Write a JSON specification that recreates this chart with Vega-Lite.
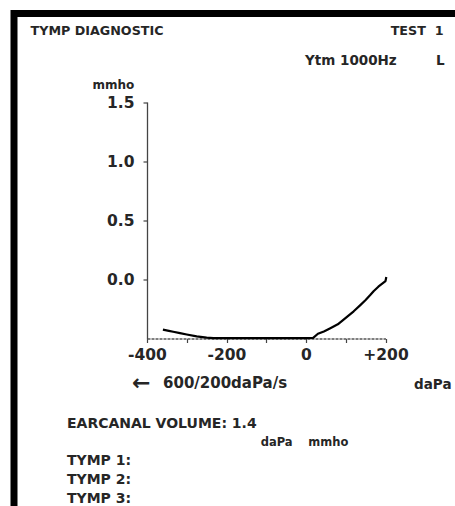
{
  "$schema": "https://vega.github.io/schema/vega-lite/v6.json",
  "width": 451,
  "height": 502.5,
  "autosize": {"type": "none"},
  "padding": {"left": 14, "top": 13.5, "right": -10, "bottom": -10},
  "background": "white",
  "config": {
    "view": {"stroke": "black", "strokeWidth": 7, "fill": "white"},
    "font": "DejaVu Sans",
    "text": {"font": "DejaVu Sans", "fontWeight": "bold", "fontSize": 13.5, "color": "#262626", "baseline": "alphabetic", "align": "left"}
  },
  "datasets": {
    "tympanogram": [
      {"pressure": -360, "admittance": -0.425},
      {"pressure": -345, "admittance": -0.435},
      {"pressure": -334, "admittance": -0.443},
      {"pressure": -317, "admittance": -0.455},
      {"pressure": -300, "admittance": -0.466},
      {"pressure": -275, "admittance": -0.482},
      {"pressure": -250, "admittance": -0.492},
      {"pressure": -233, "admittance": -0.497},
      {"pressure": -200, "admittance": -0.497},
      {"pressure": -150, "admittance": -0.497},
      {"pressure": -100, "admittance": -0.497},
      {"pressure": -50, "admittance": -0.497},
      {"pressure": 0, "admittance": -0.497},
      {"pressure": 18, "admittance": -0.495},
      {"pressure": 30, "admittance": -0.46},
      {"pressure": 45, "admittance": -0.44},
      {"pressure": 60, "admittance": -0.415},
      {"pressure": 80, "admittance": -0.38},
      {"pressure": 100, "admittance": -0.325},
      {"pressure": 120, "admittance": -0.27},
      {"pressure": 136, "admittance": -0.22},
      {"pressure": 150, "admittance": -0.175},
      {"pressure": 161, "admittance": -0.135},
      {"pressure": 170, "admittance": -0.1},
      {"pressure": 182, "admittance": -0.062},
      {"pressure": 195, "admittance": -0.028},
      {"pressure": 200, "admittance": -0.015},
      {"pressure": 202, "admittance": 0.02}
    ]
  },
  "layer": [
    {
      "data": {"name": "tympanogram"},
      "mark": {"type": "line", "color": "black", "strokeWidth": 2.2, "strokeJoin": "round"},
      "encoding": {
        "x": {
          "field": "pressure",
          "type": "quantitative",
          "scale": {"domain": [-400, 200], "range": [133, 371.5], "nice": false, "zero": false},
          "axis": {
            "values": [-400, -300, -200, -100, 0, 100, 200],
            "labelExpr": "datum.value % 200 === 0 ? (datum.value > 0 ? '+' + datum.value : '' + datum.value) : ''",
            "offset": -177.5,
            "grid": false,
            "domainColor": "#555",
            "domainWidth": 1.5,
            "domainDash": [3, 1],
            "tickColor": "#444",
            "tickSize": 4,
            "tickWidth": 1.2,
            "labelFont": "DejaVu Sans",
            "labelFontWeight": "bold",
            "labelFontSize": 15.5,
            "labelColor": "#262626",
            "labelPadding": 5,
            "labelFlush": false,
            "labelOverlap": false,
            "title": "daPa",
            "titleX": 437,
            "titleY": 49.5,
            "titleAlign": "right",
            "titleBaseline": "alphabetic",
            "titleFont": "DejaVu Sans",
            "titleFontWeight": "bold",
            "titleFontSize": 13.5,
            "titleColor": "#262626"
          }
        },
        "y": {
          "field": "admittance",
          "type": "quantitative",
          "scale": {"domain": [-0.5, 1.5], "range": [325, 88.5], "nice": false, "zero": false},
          "axis": {
            "values": [0, 0.5, 1, 1.5],
            "format": ".1f",
            "offset": -133,
            "grid": false,
            "domainColor": "#444",
            "domainWidth": 1.3,
            "tickColor": "#444",
            "tickSize": 4,
            "tickWidth": 1.2,
            "labelFont": "DejaVu Sans",
            "labelFontWeight": "bold",
            "labelFontSize": 15.5,
            "labelColor": "#262626",
            "labelPadding": 9,
            "labelFlush": false,
            "title": "mmho",
            "titleAngle": 0,
            "titleX": -55,
            "titleY": 74.5,
            "titleAlign": "left",
            "titleBaseline": "alphabetic",
            "titleFont": "DejaVu Sans",
            "titleFontWeight": "bold",
            "titleFontSize": 12,
            "titleColor": "#262626"
          }
        }
      }
    },
    {"data": {"values": [{}]}, "mark": {"type": "text", "text": "TYMP DIAGNOSTIC", "fontSize": 12.7},
     "encoding": {"x": {"datum": -692.9, "type": "quantitative"}, "y": {"datum": 2.066, "type": "quantitative"}}},
    {"data": {"values": [{}]}, "mark": {"type": "text", "text": "TEST\u00a0\u00a01", "fontSize": 12.7, "align": "right"},
     "encoding": {"x": {"datum": 345.9, "type": "quantitative"}, "y": {"datum": 2.066, "type": "quantitative"}}},
    {"data": {"values": [{}]}, "mark": {"type": "text", "text": "Ytm 1000Hz", "fontSize": 13.5},
     "encoding": {"x": {"datum": -2.5, "type": "quantitative"}, "y": {"datum": 1.817, "type": "quantitative"}}},
    {"data": {"values": [{}]}, "mark": {"type": "text", "text": "L", "fontSize": 13.5, "align": "right"},
     "encoding": {"x": {"datum": 348.4, "type": "quantitative"}, "y": {"datum": 1.817, "type": "quantitative"}}},
    {"data": {"values": [{}]}, "mark": {"type": "text", "text": "←", "fontSize": 22},
     "encoding": {"x": {"datum": -437.7, "type": "quantitative"}, "y": {"datum": -0.9355, "type": "quantitative"}}},
    {"data": {"values": [{}]}, "mark": {"type": "text", "text": "600/200daPa/s", "fontSize": 15},
     "encoding": {"x": {"datum": -359.7, "type": "quantitative"}, "y": {"datum": -0.921, "type": "quantitative"}}},
    {"data": {"values": [{}]}, "mark": {"type": "text", "text": "EARCANAL VOLUME: 1.4", "fontSize": 14},
     "encoding": {"x": {"datum": -601.3, "type": "quantitative"}, "y": {"datum": -1.259, "type": "quantitative"}}},
    {"data": {"values": [{}]}, "mark": {"type": "text", "text": "daPa", "fontSize": 11.5},
     "encoding": {"x": {"datum": -114, "type": "quantitative"}, "y": {"datum": -1.4065, "type": "quantitative"}}},
    {"data": {"values": [{}]}, "mark": {"type": "text", "text": "mmho", "fontSize": 11.5},
     "encoding": {"x": {"datum": 5.8, "type": "quantitative"}, "y": {"datum": -1.4065, "type": "quantitative"}}},
    {"data": {"values": [{}]}, "mark": {"type": "text", "text": "TYMP 1:", "fontSize": 14},
     "encoding": {"x": {"datum": -601.3, "type": "quantitative"}, "y": {"datum": -1.57, "type": "quantitative"}}},
    {"data": {"values": [{}]}, "mark": {"type": "text", "text": "TYMP 2:", "fontSize": 14},
     "encoding": {"x": {"datum": -601.3, "type": "quantitative"}, "y": {"datum": -1.731, "type": "quantitative"}}},
    {"data": {"values": [{}]}, "mark": {"type": "text", "text": "TYMP 3:", "fontSize": 14},
     "encoding": {"x": {"datum": -601.3, "type": "quantitative"}, "y": {"datum": -1.891, "type": "quantitative"}}}
  ]
}
